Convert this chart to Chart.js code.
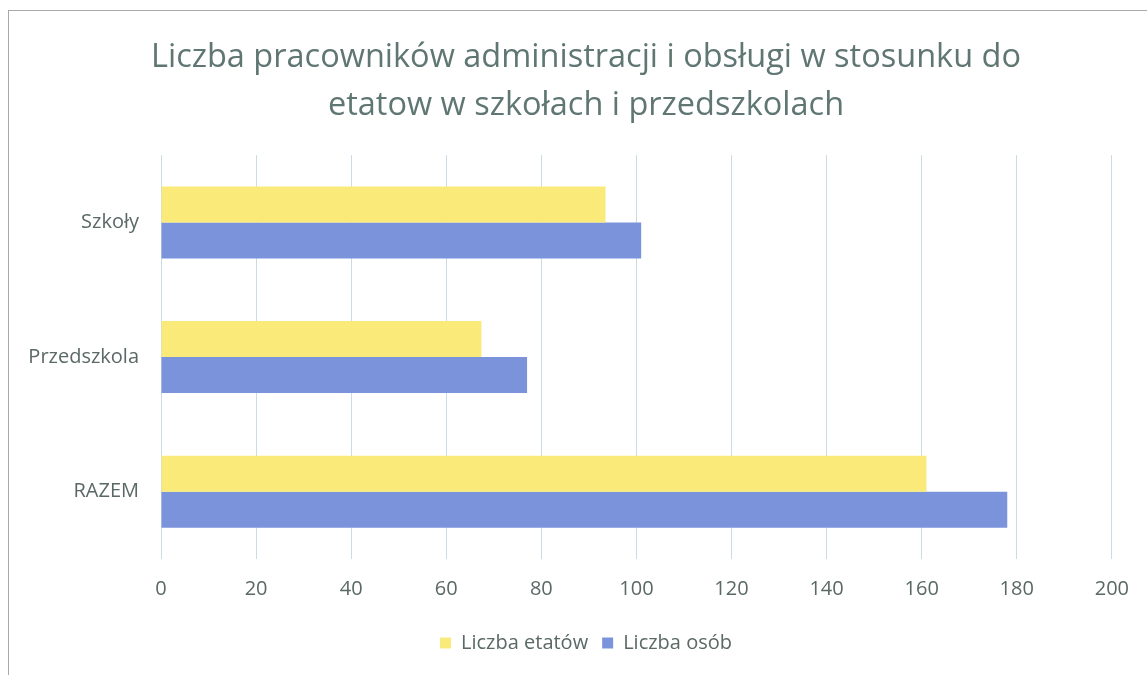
<!DOCTYPE html>
<html>
<head>
<meta charset="utf-8">
<script src="https://cdn.jsdelivr.net/npm/chart.js@4"></script>
<style>
  html, body { margin: 0; padding: 0; background: #fff; }
  #wrap { position: relative; width: 1147px; height: 675px; }
  #frame { position: absolute; left: 8px; top: 10px; right: -2px; bottom: -2px; border-left: 1px solid #a9a9a9; border-top: 1px solid #a9a9a9; }
  canvas { position: absolute; left: 0; top: 0; }
</style>
</head>
<body>
<div id="wrap">
  <div id="frame"></div>
  <canvas id="myChart" width="1147" height="675"></canvas>
</div>
<script>
// values
const categories = ['Szkoły', 'Przedszkola', 'RAZEM'];
const etaty = [93.5, 67.4, 161];
const osoby = [101, 77, 178];
const xTicks = [0, 20, 40, 60, 80, 100, 120, 140, 160, 180, 200];

const font = "'Open Sans', 'DejaVu Sans', sans-serif";
const textColor = '#5a6966';

// category labels are wider than the narrow y axis box, so don't clip them
const noLabelClip = {
  id: 'noLabelClip',
  afterLayout(chart) {
    chart.scales.y._computeLabelArea = () => null;
  },
};

const ctx = document.getElementById('myChart').getContext('2d');
const myChart = new Chart(ctx, {
  type: 'bar',
  data: {
    labels: categories,
    datasets: [
      {
        label: 'Liczba etatów',
        data: etaty,
        backgroundColor: '#f9ea7a',
        borderWidth: 0,
      },
      {
        label: 'Liczba osób',
        data: osoby,
        backgroundColor: '#7b93da',
        borderWidth: 0,
      },
    ],
  },
  plugins: [noLabelClip],
  options: {
    indexAxis: 'y',
    responsive: false,
    animation: false,
    layout: { padding: { top: 34, left: 60, right: 35, bottom: 12 } },
    datasets: { bar: { categoryPercentage: 0.535, barPercentage: 1 } },
    scales: {
      x: {
        min: 0,
        max: 200,
        afterBuildTicks: (axis) => { axis.ticks = xTicks.map(v => ({ value: v })); },
        grid: { color: '#cbdbe3', lineWidth: 1, drawTicks: false },
        border: { display: false },
        ticks: { color: textColor, font: { family: font, size: 20 }, padding: 18 },
      },
      y: {
        afterFit: (axis) => { axis.width = 101; },
        grid: { display: false },
        border: { display: false },
        ticks: { color: textColor, font: { family: font, size: 20 }, padding: 14 },
      },
    },
    plugins: {
      title: {
        display: true,
        text: ['Liczba pracowników administracji i obsługi w stosunku do', 'etatow w szkołach i przedszkolach'],
        color: '#5f7672',
        font: { family: font, size: 32.5, weight: 'normal', lineHeight: 1.48 },
        padding: { top: 0, bottom: 25 },
      },
      legend: {
        position: 'bottom',
        labels: {
          color: textColor,
          font: { family: font, size: 20 },
          boxWidth: 11,
          boxHeight: 11,
          padding: 14,
        },
      },
      tooltip: { enabled: false },
    },
  },
});
</script>
</body>
</html>
